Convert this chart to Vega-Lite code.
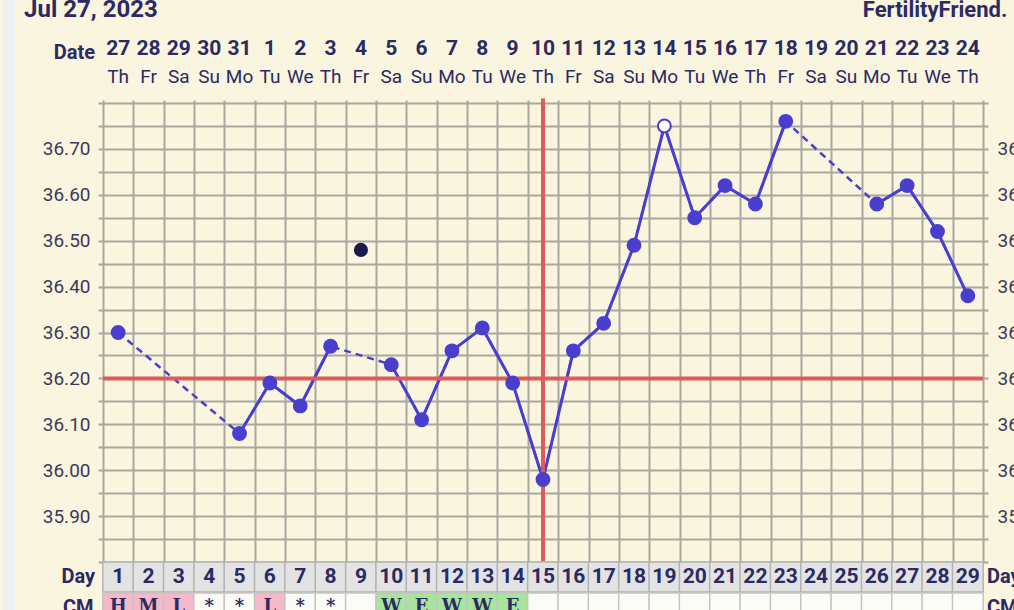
{
  "$schema": "https://vega.github.io/schema/vega-lite/v6.json",
  "width": 890,
  "height": 459,
  "autosize": {"type": "none"},
  "padding": {"left": 98, "top": 103, "right": 26, "bottom": 48},
  "background": "#f9f5de",
  "config": {"view": {"stroke": null}, "font": "Roboto"},
  "datasets": {
    "one": [{}],
    "chart": [
      {"day": 1, "date": "27", "wd": "Th", "temp": 36.30, "cm": "H", "pt": "normal"},
      {"day": 2, "date": "28", "wd": "Fr", "temp": null, "cm": "M", "pt": "normal"},
      {"day": 3, "date": "29", "wd": "Sa", "temp": null, "cm": "L", "pt": "normal"},
      {"day": 4, "date": "30", "wd": "Su", "temp": null, "cm": "*", "pt": "normal"},
      {"day": 5, "date": "31", "wd": "Mo", "temp": 36.08, "cm": "*", "pt": "normal"},
      {"day": 6, "date": "1", "wd": "Tu", "temp": 36.19, "cm": "L", "pt": "normal"},
      {"day": 7, "date": "2", "wd": "We", "temp": 36.14, "cm": "*", "pt": "normal"},
      {"day": 8, "date": "3", "wd": "Th", "temp": 36.27, "cm": "*", "pt": "normal"},
      {"day": 9, "date": "4", "wd": "Fr", "temp": null, "disc": 36.48, "cm": "", "pt": "normal"},
      {"day": 10, "date": "5", "wd": "Sa", "temp": 36.23, "cm": "W", "pt": "normal"},
      {"day": 11, "date": "6", "wd": "Su", "temp": 36.11, "cm": "E", "pt": "normal"},
      {"day": 12, "date": "7", "wd": "Mo", "temp": 36.26, "cm": "W", "pt": "normal"},
      {"day": 13, "date": "8", "wd": "Tu", "temp": 36.31, "cm": "W", "pt": "normal"},
      {"day": 14, "date": "9", "wd": "We", "temp": 36.19, "cm": "E", "pt": "normal"},
      {"day": 15, "date": "10", "wd": "Th", "temp": 35.98, "cm": "", "pt": "normal"},
      {"day": 16, "date": "11", "wd": "Fr", "temp": 36.26, "cm": "", "pt": "normal"},
      {"day": 17, "date": "12", "wd": "Sa", "temp": 36.32, "cm": "", "pt": "normal"},
      {"day": 18, "date": "13", "wd": "Su", "temp": 36.49, "cm": "", "pt": "normal"},
      {"day": 19, "date": "14", "wd": "Mo", "temp": 36.75, "cm": "", "pt": "open"},
      {"day": 20, "date": "15", "wd": "Tu", "temp": 36.55, "cm": "", "pt": "normal"},
      {"day": 21, "date": "16", "wd": "We", "temp": 36.62, "cm": "", "pt": "normal"},
      {"day": 22, "date": "17", "wd": "Th", "temp": 36.58, "cm": "", "pt": "normal"},
      {"day": 23, "date": "18", "wd": "Fr", "temp": 36.76, "cm": "", "pt": "normal"},
      {"day": 24, "date": "19", "wd": "Sa", "temp": null, "cm": "", "pt": "normal"},
      {"day": 25, "date": "20", "wd": "Su", "temp": null, "cm": "", "pt": "normal"},
      {"day": 26, "date": "21", "wd": "Mo", "temp": 36.58, "cm": "", "pt": "normal"},
      {"day": 27, "date": "22", "wd": "Tu", "temp": 36.62, "cm": "", "pt": "normal"},
      {"day": 28, "date": "23", "wd": "We", "temp": 36.52, "cm": "", "pt": "normal"},
      {"day": 29, "date": "24", "wd": "Th", "temp": 36.38, "cm": "", "pt": "normal"}
    ]
  },
  "data": {"name": "chart"},
  "resolve": {"axis": {"x": "independent", "y": "independent"}, "scale": {"fill": "independent"}},
  "layer": [
    {
      "data": {"name": "one"},
      "mark": {"type": "rect", "color": "#efefef"},
      "encoding": {
        "x": {"datum": -2.8, "scale": {"domain": [0.5, 29.5], "nice": false, "zero": false}, "axis": null},
        "x2": {"datum": -2.4},
        "y": {"datum": 37.2, "scale": {"domain": [35.8, 36.8], "nice": false, "zero": false}, "axis": null},
        "y2": {"datum": 35.6}
      }
    },
    {
      "mark": {"type": "bar", "width": 30.69, "fill": "#e3e3e3", "stroke": "#b3b3b3", "strokeWidth": 1.5},
      "encoding": {
        "x": {"field": "day", "type": "quantitative", "scale": {"domain": [0.5, 29.5], "nice": false, "zero": false}, "axis": null},
        "y": {"datum": 35.8, "scale": {"domain": [35.8, 36.8], "nice": false, "zero": false}, "axis": null},
        "y2": {"datum": 35.7346}
      }
    },
    {
      "mark": {"type": "bar", "width": 30.69, "stroke": "#c4c4c4", "strokeWidth": 1.5},
      "encoding": {
        "x": {"field": "day", "type": "quantitative", "scale": {"domain": [0.5, 29.5], "nice": false, "zero": false}, "axis": null},
        "y": {"datum": 35.7325, "scale": {"domain": [35.8, 36.8], "nice": false, "zero": false}, "axis": null},
        "y2": {"datum": 35.67},
        "fill": {"field": "cm", "type": "nominal", "legend": null,
          "scale": {"domain": ["H", "M", "L", "*", "W", "E", ""], "range": ["#f4b8c9", "#f4b8c9", "#f4b8c9", "#fcfcf7", "#a8e59c", "#a8e59c", "#fcfcf7"]}}
      }
    },
    {
      "mark": {"type": "text", "fontWeight": "bold", "fontSize": 21, "color": "#2b2a63", "baseline": "middle"},
      "encoding": {
        "x": {"field": "day", "type": "quantitative", "scale": {"domain": [0.5, 29.5], "nice": false, "zero": false}, "axis": null},
        "y": {"datum": 35.767, "scale": {"domain": [35.8, 36.8], "nice": false, "zero": false}, "axis": null},
        "text": {"field": "day", "type": "nominal"}
      }
    },
    {
      "mark": {"type": "text", "font": "DejaVu Serif", "fontWeight": "bold", "fontSize": 18, "color": "#2b2a63", "baseline": "middle"},
      "encoding": {
        "x": {"field": "day", "type": "quantitative", "scale": {"domain": [0.5, 29.5], "nice": false, "zero": false}, "axis": null},
        "y": {"datum": 35.701, "scale": {"domain": [35.8, 36.8], "nice": false, "zero": false}, "axis": null},
        "text": {"field": "cm", "type": "nominal"}
      }
    },
    {
      "mark": {"type": "text", "fontWeight": "bold", "fontSize": 21, "color": "#2b2a63", "baseline": "middle"},
      "encoding": {
        "x": {"field": "day", "type": "quantitative", "scale": {"domain": [0.5, 29.5], "nice": false, "zero": false}, "axis": null},
        "y": {"datum": 36.918, "scale": {"domain": [35.8, 36.8], "nice": false, "zero": false}, "axis": null},
        "text": {"field": "date", "type": "nominal"}
      }
    },
    {
      "mark": {"type": "text", "fontSize": 19, "color": "#2b2a63", "baseline": "middle"},
      "encoding": {
        "x": {"field": "day", "type": "quantitative", "scale": {"domain": [0.5, 29.5], "nice": false, "zero": false}, "axis": null},
        "y": {"datum": 36.856, "scale": {"domain": [35.8, 36.8], "nice": false, "zero": false}, "axis": null},
        "text": {"field": "wd", "type": "nominal"}
      }
    },
    {
      "data": {"name": "one"},
      "mark": {"type": "text", "text": "Date", "fontWeight": "bold", "fontSize": 20, "color": "#2b2a63", "align": "right", "baseline": "middle"},
      "encoding": {
        "x": {"datum": 0.239, "scale": {"domain": [0.5, 29.5], "nice": false, "zero": false}, "axis": null},
        "y": {"datum": 36.909, "scale": {"domain": [35.8, 36.8], "nice": false, "zero": false}, "axis": null}
      }
    },
    {
      "data": {"name": "one"},
      "mark": {"type": "text", "text": "Jul 27, 2023", "fontWeight": "bold", "fontSize": 24, "color": "#2b2a63", "align": "left", "baseline": "alphabetic"},
      "encoding": {
        "x": {"datum": -2.1, "scale": {"domain": [0.5, 29.5], "nice": false, "zero": false}, "axis": null},
        "y": {"datum": 36.987, "scale": {"domain": [35.8, 36.8], "nice": false, "zero": false}, "axis": null}
      }
    },
    {
      "data": {"name": "one"},
      "mark": {"type": "text", "text": "FertilityFriend.", "fontWeight": "bold", "fontSize": 22, "color": "#2b2a63", "align": "right", "baseline": "alphabetic"},
      "encoding": {
        "x": {"datum": 30.3, "scale": {"domain": [0.5, 29.5], "nice": false, "zero": false}, "axis": null},
        "y": {"datum": 36.987, "scale": {"domain": [35.8, 36.8], "nice": false, "zero": false}, "axis": null}
      }
    },
    {
      "data": {"name": "one"},
      "mark": {"type": "text", "text": "Day", "fontWeight": "bold", "fontSize": 20, "color": "#2b2a63", "align": "right", "baseline": "middle"},
      "encoding": {
        "x": {"datum": 0.239, "scale": {"domain": [0.5, 29.5], "nice": false, "zero": false}, "axis": null},
        "y": {"datum": 35.767, "scale": {"domain": [35.8, 36.8], "nice": false, "zero": false}, "axis": null}
      }
    },
    {
      "data": {"name": "one"},
      "mark": {"type": "text", "text": "Day", "fontWeight": "bold", "fontSize": 20, "color": "#2b2a63", "align": "left", "baseline": "middle"},
      "encoding": {
        "x": {"datum": 29.63, "scale": {"domain": [0.5, 29.5], "nice": false, "zero": false}, "axis": null},
        "y": {"datum": 35.767, "scale": {"domain": [35.8, 36.8], "nice": false, "zero": false}, "axis": null}
      }
    },
    {
      "data": {"name": "one"},
      "mark": {"type": "text", "text": "CM", "fontWeight": "bold", "fontSize": 20, "color": "#2b2a63", "align": "right", "baseline": "middle"},
      "encoding": {
        "x": {"datum": 0.19, "scale": {"domain": [0.5, 29.5], "nice": false, "zero": false}, "axis": null},
        "y": {"datum": 35.7, "scale": {"domain": [35.8, 36.8], "nice": false, "zero": false}, "axis": null}
      }
    },
    {
      "data": {"name": "one"},
      "mark": {"type": "text", "text": "CM", "fontWeight": "bold", "fontSize": 20, "color": "#2b2a63", "align": "left", "baseline": "middle"},
      "encoding": {
        "x": {"datum": 29.63, "scale": {"domain": [0.5, 29.5], "nice": false, "zero": false}, "axis": null},
        "y": {"datum": 35.7, "scale": {"domain": [35.8, 36.8], "nice": false, "zero": false}, "axis": null}
      }
    },
    {
      "transform": [{"filter": "isValid(datum.temp)"}],
      "mark": {"type": "line", "color": "#4a3ecf", "strokeWidth": 2.5, "strokeDash": [7, 5]},
      "encoding": {
        "x": {"field": "day", "type": "quantitative", "scale": {"domain": [0.5, 29.5], "nice": false, "zero": false}, "axis": null},
        "y": {"field": "temp", "type": "quantitative", "scale": {"domain": [35.8, 36.8], "nice": false, "zero": false},
          "axis": {"orient": "right", "title": null, "values": [35.8, 35.85, 35.9, 35.95, 36.0, 36.05, 36.1, 36.15, 36.2, 36.25, 36.3, 36.35, 36.4, 36.45, 36.5, 36.55, 36.6, 36.65, 36.7, 36.75, 36.8],
            "grid": false, "ticks": false, "domain": false, "labelPadding": 9, "labelFontSize": 19, "labelColor": "#3b3a5c", "labelFont": "Roboto",
            "labelExpr": "(round(datum.value*100) % 10 == 0 && datum.value > 35.85 && datum.value < 36.75) ? format(datum.value, '.2f') : ''"}}
      }
    },
    {
      "mark": {"type": "line", "color": "#4a3ecf", "strokeWidth": 3, "invalid": "break-paths-show-domains"},
      "encoding": {
        "x": {"field": "day", "type": "quantitative", "scale": {"domain": [0.5, 29.5], "nice": false, "zero": false},
          "axis": {"orient": "top", "title": null, "values": [0.5, 1.5, 2.5, 3.5, 4.5, 5.5, 6.5, 7.5, 8.5, 9.5, 10.5, 11.5, 12.5, 13.5, 14.5, 15.5, 16.5, 17.5, 18.5, 19.5, 20.5, 21.5, 22.5, 23.5, 24.5, 25.5, 26.5, 27.5, 28.5, 29.5],
            "grid": true, "gridColor": "#a9a79f", "gridWidth": 2, "gridOpacity": 1, "ticks": true, "tickSize": 3, "tickColor": "#a9a79f", "tickWidth": 2, "labels": false, "domain": false}},
        "y": {"field": "temp", "type": "quantitative", "scale": {"domain": [35.8, 36.8], "nice": false, "zero": false},
          "axis": {"orient": "left", "title": null, "values": [35.8, 35.85, 35.9, 35.95, 36.0, 36.05, 36.1, 36.15, 36.2, 36.25, 36.3, 36.35, 36.4, 36.45, 36.5, 36.55, 36.6, 36.65, 36.7, 36.75, 36.8],
            "grid": true, "gridColor": "#a9a79f", "gridWidth": 2, "gridOpacity": 1, "ticks": false, "domain": false, "labelPadding": 8, "labelFontSize": 19, "labelColor": "#3b3a5c", "labelFont": "Roboto",
            "labelExpr": "(round(datum.value*100) % 10 == 0 && datum.value > 35.85 && datum.value < 36.75) ? format(datum.value, '.2f') : ''"}}
      }
    },
    {
      "data": {"name": "one"},
      "mark": {"type": "rule", "color": "#dc5b5b", "strokeWidth": 4},
      "encoding": {
        "x": {"datum": 0.5, "scale": {"domain": [0.5, 29.5], "nice": false, "zero": false}, "axis": null},
        "x2": {"datum": 29.5},
        "y": {"datum": 36.2, "scale": {"domain": [35.8, 36.8], "nice": false, "zero": false}, "axis": null}
      }
    },
    {
      "data": {"name": "one"},
      "mark": {"type": "rule", "color": "#dc5b5b", "strokeWidth": 4},
      "encoding": {
        "x": {"datum": 15, "scale": {"domain": [0.5, 29.5], "nice": false, "zero": false}, "axis": null},
        "y": {"datum": 36.81, "scale": {"domain": [35.8, 36.8], "nice": false, "zero": false}, "axis": null},
        "y2": {"datum": 35.802}
      }
    },
    {
      "transform": [{"filter": "isValid(datum.temp)"}],
      "mark": {"type": "circle", "size": 165, "stroke": "#4a3ecf", "strokeWidth": 2, "opacity": 1},
      "encoding": {
        "x": {"field": "day", "type": "quantitative", "scale": {"domain": [0.5, 29.5], "nice": false, "zero": false}, "axis": null},
        "y": {"field": "temp", "type": "quantitative", "scale": {"domain": [35.8, 36.8], "nice": false, "zero": false}, "axis": null},
        "fill": {"field": "pt", "type": "nominal", "legend": null, "scale": {"domain": ["normal", "open"], "range": ["#4a3ecf", "#ffffff"]}}
      }
    },
    {
      "transform": [{"filter": "isValid(datum.disc)"}],
      "mark": {"type": "circle", "size": 200, "color": "#1d1b4c", "opacity": 1},
      "encoding": {
        "x": {"field": "day", "type": "quantitative", "scale": {"domain": [0.5, 29.5], "nice": false, "zero": false}, "axis": null},
        "y": {"field": "disc", "type": "quantitative", "scale": {"domain": [35.8, 36.8], "nice": false, "zero": false}, "axis": null}
      }
    }
  ]
}
